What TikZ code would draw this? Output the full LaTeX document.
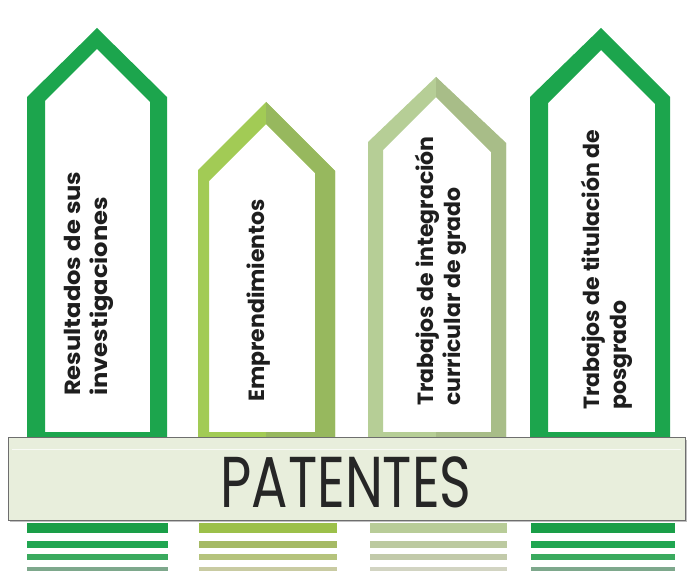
\documentclass[tikz,border=0pt]{standalone}
\usepackage{fontspec}
\setmainfont{Poppins}
\definecolor{dkg}{HTML}{1CA54D}
\definecolor{lg}{HTML}{A2CB55}
\definecolor{lgd}{HTML}{97B85E}
\definecolor{pg}{HTML}{B6CE96}
\definecolor{pgd}{HTML}{A8BD88}
\definecolor{barfill}{HTML}{E8EEDC}
\definecolor{barline}{HTML}{6E6E6E}
\definecolor{txt}{HTML}{1E1E1E}
\definecolor{sA1}{HTML}{1A9E48}\definecolor{sA2}{HTML}{20A651}\definecolor{sA3}{HTML}{3AAA5E}\definecolor{sA4}{HTML}{7EA88C}
\definecolor{sB1}{HTML}{9CC04A}\definecolor{sB2}{HTML}{A5BA64}\definecolor{sB3}{HTML}{B5C37C}\definecolor{sB4}{HTML}{C9CBA2}
\definecolor{sC1}{HTML}{B8CC98}\definecolor{sC2}{HTML}{BCCAA0}\definecolor{sC3}{HTML}{C2CAAA}\definecolor{sC4}{HTML}{D2D4C2}
\tikzset{
  pilltext/.style={rotate=90, anchor=west, align=left, inner sep=0pt,
    font=\bfseries\fontsize{22}{27}\selectfont, text=txt},
}
\begin{document}
\begin{tikzpicture}[x=1pt,y=-1pt]
\useasboundingbox (0,0) rectangle (693,577);
\fill[white] (0,0) rectangle (693,577);
% pillar 1
\fill[dkg, even odd rule] (27,441) -- (27,97) -- (97,28) -- (167,97) -- (167,441) -- cycle
  (45,432) -- (45,101) -- (97,49) -- (150,102) -- (150,432) -- cycle;
% pillar 2
\fill[lg, even odd rule] (198,441) -- (198,170) -- (266,102) -- (335,171) -- (335,441) -- cycle
  (209,432) -- (209,181) -- (266,124) -- (315,173) -- (315,432) -- cycle;
\begin{scope}
\clip (266,0) rectangle (693,577);
\fill[lgd, even odd rule] (198,441) -- (198,170) -- (266,102) -- (335,171) -- (335,441) -- cycle
  (209,432) -- (209,181) -- (266,124) -- (315,173) -- (315,432) -- cycle;
\end{scope}
% pillar 3
\fill[pg, even odd rule] (368,441) -- (368,142) -- (436,77) -- (506,143) -- (506,441) -- cycle
  (383,432) -- (383,150) -- (436,97) -- (491,152) -- (491,432) -- cycle;
\begin{scope}
\clip (436,0) rectangle (693,577);
\fill[pgd, even odd rule] (368,441) -- (368,142) -- (436,77) -- (506,143) -- (506,441) -- cycle
  (383,432) -- (383,150) -- (436,97) -- (491,152) -- (491,432) -- cycle;
\end{scope}
% pillar 4
\fill[dkg, even odd rule] (530,441) -- (530,97) -- (601,28) -- (670,97) -- (670,441) -- cycle
  (548,432) -- (548,103) -- (601,50) -- (655,104) -- (655,432) -- cycle;
% texts
\node[pilltext, xscale=1.1] (t1) at (89,396) {Resultados de sus\\investigaciones};
\node[pilltext] (t2) at (259,402) {Emprendimientos};
\node[pilltext] (t3) at (441,406) {Trabajos de integración\\curricular de grado};
\node[pilltext] (t4) at (607,410) {Trabajos de titulación de\\posgrado};
% bar
\fill[black!25] (10,440) rectangle (687,522);
\node[draw=barline, fill=barfill, line width=1.2pt, minimum width=677pt, minimum height=83pt,
  inner sep=0pt, anchor=north west] (bar) at (8,437) {};
\draw[white!70!barfill, line width=0.8pt] (12,449) -- (681,449);
\node[xscale=0.75, font=\fontsize{72}{72}\selectfont, text=black!85, inner sep=0pt] (pat) at (346,482) {PATENTES};
% stripes
\foreach \xa/\xb/\c in {27/168/sA, 199/337/sB, 370/507/sC, 531/675/sA}{
  \fill[\c1] (\xa,523) rectangle (\xb,533);
  \fill[\c2] (\xa,541) rectangle (\xb,548);
  \fill[\c3] (\xa,554) rectangle (\xb,560);
  \fill[\c4] (\xa,567) rectangle (\xb,571);
}
\end{tikzpicture}
\end{document}
